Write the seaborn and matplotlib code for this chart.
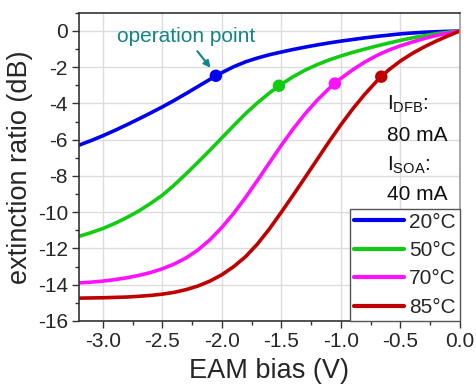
import numpy as np
import pandas as pd
import matplotlib
matplotlib.use("Agg")
import matplotlib.pyplot as plt
from matplotlib.ticker import MultipleLocator
import seaborn as sns

# ---- data ----
bias = [-3.2, -3.1, -3.0, -2.9, -2.8, -2.7, -2.6, -2.5, -2.4, -2.3, -2.2,
        -2.1, -2.0, -1.9, -1.8, -1.7, -1.6, -1.5, -1.4, -1.3, -1.2, -1.1,
        -1.0, -0.9, -0.8, -0.7, -0.6, -0.5, -0.4, -0.3, -0.2, -0.1, 0.0]

er_20C = [-6.30, -6.05, -5.78, -5.49, -5.18, -4.86, -4.53, -4.19, -3.83, -3.45, -3.06,
          -2.67, -2.30, -1.97, -1.70, -1.49, -1.31, -1.16, -1.02, -0.89, -0.77, -0.66,
          -0.56, -0.47, -0.38, -0.30, -0.23, -0.16, -0.11, -0.07, -0.04, -0.02, 0.0]
er_50C = [-11.33, -11.13, -10.90, -10.62, -10.30, -9.94, -9.52, -9.06, -8.50, -7.88, -7.24,
          -6.58, -5.90, -5.22, -4.56, -3.96, -3.42, -2.94, -2.52, -2.16, -1.86, -1.60,
          -1.38, -1.18, -1.00, -0.83, -0.67, -0.52, -0.38, -0.26, -0.15, -0.07, 0.0]
er_70C = [-13.90, -13.86, -13.80, -13.72, -13.62, -13.49, -13.33, -13.12, -12.86, -12.52, -12.08,
          -11.52, -10.84, -10.06, -9.18, -8.24, -7.27, -6.31, -5.40, -4.57, -3.83, -3.18,
          -2.62, -2.14, -1.72, -1.36, -1.06, -0.82, -0.61, -0.42, -0.25, -0.12, 0.0]
er_85C = [-14.74, -14.73, -14.72, -14.70, -14.68, -14.64, -14.59, -14.52, -14.42, -14.27, -14.07,
          -13.80, -13.45, -13.00, -12.45, -11.75, -10.92, -10.00, -9.05, -8.08, -7.10, -6.12,
          -5.18, -4.30, -3.50, -2.78, -2.16, -1.66, -1.24, -0.88, -0.56, -0.27, 0.0]

temps = ["20°C", "50°C", "70°C", "85°C"]
colors = ["#0000ee", "#11cc11", "#ff11ff", "#c00000"]

# operation points
op_bias = [-2.05, -1.52, -1.05, -0.66]
op_er = [-2.47, -3.02, -2.90, -2.52]

yticks = [0, -2, -4, -6, -8, -10, -12, -14, -16]
xticks = [-3.0, -2.5, -2.0, -1.5, -1.0, -0.5, 0.0]

# ---- build long-form table ----
series = [er_20C, er_50C, er_70C, er_85C]
df = pd.DataFrame({
    "bias": np.tile(bias, len(temps)),
    "er": np.concatenate(series),
    "T": np.repeat(temps, len(bias)),
})
dfop = pd.DataFrame({"bias": op_bias, "er": op_er, "T": temps})

sns.set_theme(style="white")
plt.rcParams["font.family"] = ["Liberation Sans", "DejaVu Sans"]
plt.rcParams["mathtext.fontset"] = "custom"
plt.rcParams["mathtext.rm"] = "Liberation Sans"
plt.rcParams["mathtext.it"] = "Liberation Sans"
plt.rcParams["axes.unicode_minus"] = False

fig = plt.figure(figsize=(4.76, 3.90), dpi=100)
ax = fig.add_axes([0.166, 0.177, 0.800, 0.790])

palette = dict(zip(temps, colors))
sns.lineplot(data=df, x="bias", y="er", hue="T", palette=palette, ax=ax,
             linewidth=2.6, sort=False, legend=True)
sns.scatterplot(data=dfop, x="bias", y="er", hue="T", palette=palette, ax=ax,
                s=80, edgecolor="none", legend=False, zorder=5)

ax.set_xlim(-3.2, 0.0)
ax.set_ylim(-16, 1)
ax.set_xticks(xticks)
ax.set_xticklabels([f"{v:.1f}" for v in xticks])
ax.set_yticks(yticks)
ax.set_yticklabels([str(v) for v in yticks])
ax.xaxis.set_minor_locator(MultipleLocator(0.25))
ax.yaxis.set_minor_locator(MultipleLocator(1))
ax.tick_params(axis="both", which="major", direction="out", length=5, width=1,
               labelsize=15, color="#333333", bottom=True, left=True, pad=3)
ax.tick_params(axis="both", which="minor", direction="out", length=3, width=1,
               color="#333333", bottom=True, left=True)
ax.grid(True, which="major", color="#dcdcdc", linewidth=1.0)
ax.set_axisbelow(True)

for side in ["left", "bottom", "top"]:
    ax.spines[side].set_color("#333333")
    ax.spines[side].set_linewidth(1.2)
ax.spines["right"].set_color("#999999")
ax.spines["right"].set_linewidth(1.2)

ax.set_xlabel("EAM bias (V)", fontsize=19.5, labelpad=5)
ax.set_ylabel("extinction ratio (dB)", fontsize=19.5, labelpad=3)

leg = ax.legend(loc="lower right", fontsize=15, frameon=True, fancybox=False,
                borderaxespad=0.0, handlelength=2.4, handletextpad=0.25,
                labelspacing=0.45, borderpad=0.2, title=None)
leg.get_frame().set_edgecolor("#555555")
leg.get_frame().set_linewidth(1.0)
leg.get_frame().set_alpha(1.0)
for line in leg.get_lines():
    line.set_linewidth(3.0)

teal = "#138585"
ax.annotate("operation point", xy=(-2.085, -2.2), xytext=(-2.88, -0.62),
            fontsize=15, color=teal, ha="left", va="baseline")
ax.annotate("", xy=(-2.08, -2.15), xytext=(-2.22, -1.0),
            arrowprops=dict(arrowstyle="-|>", color=teal, lw=1.5,
                            mutation_scale=10))

txt_kw = dict(fontsize=15, color="#111111", ha="left", va="baseline")
ax.text(-0.61, -4.37, r"I$_{\mathrm{DFB}}$:", **txt_kw)
ax.text(-0.61, -6.09, "80 mA", **txt_kw)
ax.text(-0.61, -7.70, r"I$_{\mathrm{SOA}}$:", **txt_kw)
ax.text(-0.61, -9.30, "40 mA", **txt_kw)

fig.savefig("out.png", dpi=100)
